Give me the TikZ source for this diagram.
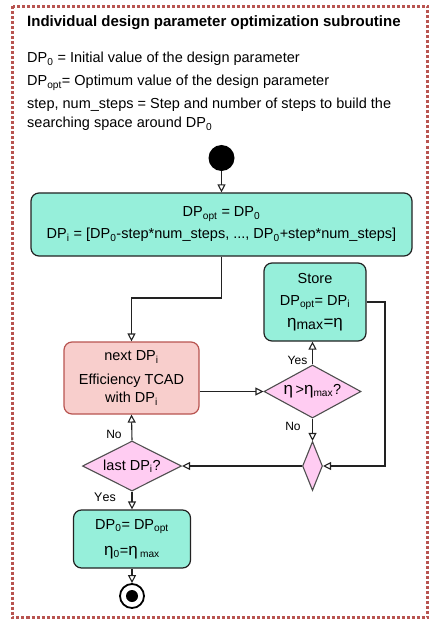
\documentclass[tikz,border=0pt]{standalone}
\usepackage{fontspec}
\setmainfont{Liberation Sans}
\usetikzlibrary{arrows.meta,shapes.geometric}
\definecolor{mint}{HTML}{96EFDA}
\definecolor{pinkd}{HTML}{FFCCF2}
\definecolor{redf}{HTML}{F8CECC}
\definecolor{redd}{HTML}{B85450}
\definecolor{ink}{HTML}{222222}
\newcommand{\mysub}[1]{$_{\mathrm{#1}}$}
\begin{document}
\begin{tikzpicture}[x=1pt,y=-1pt,
  every node/.style={font=\fontsize{14.5}{18}\selectfont, text=black},
  arr/.style={draw=ink, line width=1.1pt, -{Triangle[open,length=8pt,width=8pt]}},
  conn/.style={draw=ink, line width=1.1pt},
  mintbox/.style={draw=ink, line width=1.2pt, fill=mint, rounded corners=8pt, align=center, inner sep=0pt},
  redbox/.style={draw=redd, line width=1.2pt, fill=redf, rounded corners=8pt, align=center, inner sep=0pt},
  decision/.style={diamond, draw=ink!80, line width=1.1pt, fill=pinkd, inner sep=0pt},
  lbl/.style={font=\fontsize{12}{14}\selectfont},
  introtxt/.style={anchor=base west, inner sep=0pt}
]
\useasboundingbox (0,0) rectangle (429,620);
% frame
\draw[redd, line width=2.6pt, dash pattern=on 3pt off 2pt] (12.5,6.5) rectangle (427.5,617.5);
% header texts
\node[introtxt, font=\bfseries\fontsize{15}{18}\selectfont] (title) at (27,27) {Individual design parameter optimization subroutine};
\node[introtxt] (l1) at (27,63) {DP\mysub{0} = Initial value of the design parameter};
\node[introtxt] (l2) at (27,86) {DP\mysub{opt}= Optimum value of the design parameter};
\node[introtxt] (l3) at (27,109) {step, num\_steps = Step and number of steps to build the};
\node[introtxt] (l4) at (27,128) {searching space around DP\mysub{0}};
% start
\node[circle, fill=black, minimum size=26pt, inner sep=0pt] (start) at (221.5,158) {};
% top box
\node[mintbox, minimum width=381pt, minimum height=63pt, font=\fontsize{14.5}{22}\selectfont] (top) at (221.5,224.5)
  {DP\mysub{opt} = DP\mysub{0}\\DP\mysub{i} = [DP\mysub{0}-step*num\_steps, ..., DP\mysub{0}+step*num\_steps]};
% store
\node[mintbox, minimum width=102pt, minimum height=78pt, font=\fontsize{14.5}{22}\selectfont] (store) at (315,302)
  {Store\\DP\mysub{opt}= DP\mysub{i}\\{\fontsize{17}{20}\selectfont η\textsubscript{\fontsize{14}{14}\selectfont max}=η}};
% red box
\node[redbox, minimum width=135pt, minimum height=72pt, font=\fontsize{14.5}{18}\selectfont] (red) at (131.5,378)
  {next DP\mysub{i}\\[6pt]Efficiency TCAD\\with DP\mysub{i}};
% eta decision
\node[decision, minimum width=97pt, minimum height=53pt, shape aspect=1.8] (eta) at (312.5,391.5)
  {{\fontsize{17}{20}\selectfont η}\,>{\fontsize{17}{20}\selectfont η}\textsubscript{max}?};
% merge diamond
\node[decision, minimum width=20pt, minimum height=49pt] (merge) at (312.5,466) {};
% last decision
\node[decision, minimum width=99pt, minimum height=50pt, shape aspect=2] (last) at (132,466) {last DP\mysub{i}?};
% bottom box
\node[mintbox, minimum width=117pt, minimum height=58pt, font=\fontsize{14.5}{26}\selectfont] (bot) at (132,539)
  {DP\mysub{0}= DP\mysub{opt}\\{\fontsize{17}{20}\selectfont η}\mysub{0}={\fontsize{17}{20}\selectfont η}\,\textsubscript{max}};
% end
\node[circle, draw=black, line width=1.8pt, fill=white, minimum size=24pt, inner sep=0pt] (endc) at (132,596) {};
\node[circle, fill=black, minimum size=12pt, inner sep=0pt] (endi) at (endc.center) {};
% connectors
\coordinate (j1) at (221.5,298);
\coordinate (j2) at (385,466);
\draw[arr] (start) -- (top.north);
\draw[arr] (top.south) -- (j1) -| (red.north);
\draw[arr] (eta.west -| red.east) -- (eta.west);
\draw[arr] (eta.north) -- (eta.north |- store.south);
\draw[arr] (eta.south) -- (merge.north);
\draw[arr] (store.east) -| (j2) -- (merge.east);
\draw[arr] (merge.west) -- (last.east);
\draw[arr] (last.north) -- (red.south);
\draw[arr] (last.south) -- (bot.north);
\draw[arr] (bot.south) -- (endc.north);
% labels
\node[lbl] (yes1) at (297.5,360) {Yes};
\node[lbl] (no1) at (293,426) {No};
\node[lbl] (no2) at (114,434) {No};
\node[lbl, font=\fontsize{12.5}{14}\selectfont] (yes2) at (105,497) {$\mathrm{Yes}$};
\end{tikzpicture}
\end{document}
